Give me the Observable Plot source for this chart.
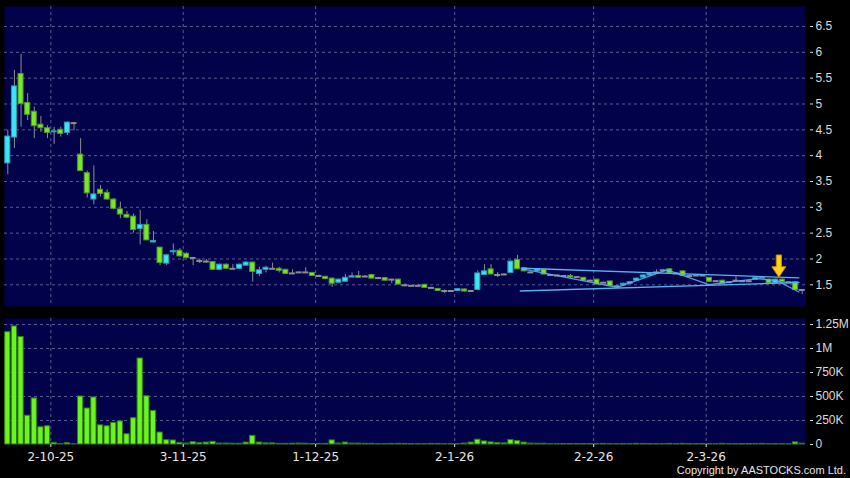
<!DOCTYPE html>
<html><head><meta charset="utf-8">
<script src="https://cdn.jsdelivr.net/npm/d3@7"></script>
<script src="https://cdn.jsdelivr.net/npm/@observablehq/plot@0.6"></script>
<style>
html,body{margin:0;padding:0;background:#000;}
#wrap{position:relative;width:850px;height:478px;overflow:hidden;background:#000;}
#wrap svg{display:block;}
#copy{position:absolute;right:4px;top:464px;font:11px "Liberation Sans",Arial,sans-serif;color:#e6e6e6;white-space:nowrap;}
</style></head>
<body><div id="wrap"><div id="copy">Copyright by AASTOCKS.com Ltd.</div></div>
<script>
// ---- data (one entry per trading day, index 0..120) ----
const opens = [3.85,4.35,5.58,5.02,4.85,4.60,4.53,4.45,4.50,4.44,
4.63,4.02,3.66,3.15,3.34,3.28,3.15,2.96,2.855,2.82,
2.58,2.66,2.32,2.22,1.91,2.13,2.16,2.10,2.02,1.96,
1.95,1.94,1.79,1.89,1.81,1.81,1.87,1.93,1.71,1.79,
1.81,1.81,1.79,1.72,1.74,1.74,1.73,1.67,1.655,1.62,
1.54,1.56,1.64,1.67,1.66,1.69,1.63,1.63,1.60,1.60,
1.49,1.48,1.48,1.50,1.44,1.42,1.38,1.38,1.38,1.41,
1.38,1.40,1.69,1.80,1.69,1.70,1.73,1.98,1.82,1.74,
1.76,1.79,1.69,1.68,1.67,1.67,1.65,1.635,1.58,1.60,
1.54,1.565,1.47,1.49,1.52,1.58,1.64,1.68,1.71,1.78,
1.80,1.72,1.76,1.67,1.68,1.68,1.635,1.57,1.58,1.55,
1.58,1.57,1.57,1.60,1.62,1.60,1.53,1.60,1.55,1.55,
1.40];
const closes = [4.37,5.34,5.00,4.79,4.57,4.53,4.44,4.47,4.42,4.64,
4.63,3.70,3.27,3.25,3.26,3.15,2.97,2.86,2.80,2.56,
2.66,2.36,2.35,1.92,2.07,2.15,2.05,2.02,2.02,1.96,
1.95,1.79,1.89,1.81,1.81,1.89,1.93,1.75,1.78,1.83,
1.81,1.77,1.71,1.72,1.74,1.74,1.67,1.67,1.61,1.52,
1.60,1.635,1.665,1.635,1.66,1.62,1.63,1.58,1.60,1.505,
1.49,1.48,1.48,1.44,1.44,1.38,1.38,1.38,1.415,1.37,
1.38,1.72,1.76,1.70,1.69,1.70,1.95,1.80,1.76,1.74,
1.80,1.70,1.69,1.68,1.67,1.64,1.65,1.58,1.58,1.505,
1.54,1.475,1.47,1.52,1.55,1.62,1.68,1.71,1.74,1.78,
1.72,1.72,1.67,1.67,1.68,1.68,1.56,1.57,1.52,1.55,
1.58,1.57,1.57,1.635,1.635,1.53,1.60,1.55,1.55,1.40,
1.40];
const highs = [4.49,5.65,5.96,5.20,4.94,4.76,4.58,4.55,4.55,4.65,
4.64,4.33,3.70,3.80,3.42,3.34,3.17,3.10,2.92,2.87,
2.94,2.76,2.53,2.22,2.09,2.29,2.20,2.12,2.03,2.00,
1.99,1.95,1.90,1.90,1.89,1.90,1.95,1.94,1.84,1.86,
1.92,1.84,1.80,1.79,1.75,1.83,1.74,1.69,1.66,1.63,
1.61,1.70,1.73,1.76,1.68,1.70,1.64,1.64,1.61,1.61,
1.52,1.49,1.51,1.51,1.45,1.43,1.40,1.39,1.43,1.42,
1.39,1.77,1.89,1.89,1.74,1.71,1.96,2.07,1.83,1.75,
1.81,1.80,1.70,1.69,1.68,1.70,1.66,1.64,1.59,1.61,
1.55,1.57,1.48,1.53,1.56,1.63,1.69,1.72,1.79,1.80,
1.81,1.73,1.77,1.69,1.69,1.70,1.64,1.58,1.59,1.56,
1.65,1.58,1.58,1.64,1.64,1.61,1.61,1.61,1.56,1.56,
1.41];
const lows = [3.63,4.14,4.55,4.68,4.33,4.45,4.33,4.22,4.36,4.39,
4.48,3.70,3.18,3.05,3.20,3.14,2.95,2.78,2.78,2.50,
2.27,2.36,2.31,1.87,1.87,2.07,2.04,2.00,1.87,1.91,
1.92,1.78,1.78,1.80,1.80,1.80,1.86,1.55,1.66,1.73,
1.80,1.73,1.70,1.70,1.73,1.73,1.66,1.65,1.60,1.45,
1.53,1.55,1.64,1.63,1.64,1.61,1.62,1.57,1.52,1.50,
1.48,1.47,1.47,1.43,1.43,1.37,1.33,1.37,1.37,1.36,
1.37,1.39,1.68,1.69,1.64,1.69,1.72,1.79,1.75,1.73,
1.75,1.69,1.66,1.67,1.66,1.63,1.64,1.57,1.57,1.50,
1.53,1.47,1.45,1.48,1.51,1.57,1.63,1.67,1.70,1.77,
1.71,1.71,1.66,1.66,1.67,1.67,1.55,1.56,1.51,1.54,
1.57,1.56,1.56,1.59,1.62,1.52,1.52,1.54,1.54,1.39,
1.31];
const volumes = [1170000,1230000,1120000,300000,480000,180000,190000,17000,3000,14000,
2000,500000,375000,490000,200000,190000,225000,240000,107000,274000,
896000,503000,350000,125000,45000,42000,17000,10000,24000,14000,
20000,28000,10000,10000,8000,8000,20000,90000,20000,12000,
12000,6000,6000,8000,10000,8000,5000,4000,6000,43000,
10000,20000,10000,10000,7000,7000,3000,3000,6000,7000,
6000,4000,3000,3000,6000,6000,3000,3000,3000,10000,
20000,50000,32000,22000,15000,12000,46000,35000,20000,10000,
8000,8000,3000,3000,5000,5000,4000,5000,5000,3000,
6000,3000,3000,5000,3000,7000,6000,5000,3000,3000,
6000,3000,7000,5000,3000,5000,3000,2000,7000,3000,
3000,5000,5000,3000,6000,3000,4000,3000,2000,22000,
8000];

// x-axis: first trading day of each month (candle index) and its label
const monthIndex  = [6, 26, 46, 67, 88, 105];
const monthLabels = ["2-10-25","3-11-25","1-12-25","2-1-26","2-2-26","2-3-26"];

const priceTicks = [1.5,2,2.5,3,3.5,4,4.5,5,5.5,6,6.5];
const volTicks = [0,250000,500000,750000,1000000,1250000];
const volTickLabels = ["0","250K","500K","750K","1M","1.25M"];

// drawn trend lines (x in candle slots, y in price)
const upperLineX = [78.2, 120.0], upperLineY = [1.82, 1.635];
const lowerLineX = [77.9, 120.0], lowerLineY = [1.38, 1.545];
const zigX = [78.2, 92.55, 100.1, 106.4, 113.7, 116.7, 120.0];
const zigY = [1.81, 1.45, 1.79, 1.505, 1.62, 1.58, 1.36];
// marker arrow
const arrowX = 117.05, arrowTopPrice = 2.067, arrowHeadPrice = 1.84, arrowTipPrice = 1.641;

// ---- build ----
const NAVY = "#02024a", GRID = "#5b5b8e";
const N = opens.length;
const candles = opens.map((o, i) => ({i, o, c: closes[i], h: highs[i], l: lows[i], v: volumes[i]}));
const bodies = candles.filter(d => d.o !== d.c);
const flats = candles.filter(d => d.o === d.c);
const gridXs = monthIndex.map(i => i + 1);
const labelOf = new Map(gridXs.map((g, k) => [g, monthLabels[k]]));
const volLabelOf = new Map(volTicks.map((t, k) => [t, volTickLabels[k]]));
const pts = (xs, ys) => xs.map((x, k) => ({x, y: ys[k]}));

const arrowMark = (index, scales) => {
  const x = scales.x(arrowX), y0 = scales.y(arrowTopPrice), yh = scales.y(arrowHeadPrice), yt = scales.y(arrowTipPrice);
  const p = d3.create("svg:path")
    .attr("d", `M${x-2.6},${y0}H${x+2.6}V${yh}H${x+7}L${x},${yt}L${x-7},${yh}H${x-2.6}Z`)
    .attr("fill", "#ffd21a").attr("stroke", "#d88a00").attr("stroke-width", 1);
  return p.node();
};

const price = Plot.plot({
  width: 850, height: 312,
  marginLeft: 4, marginRight: 45, marginTop: 6, marginBottom: 6,
  style: {background: "#000", color: "#dcdcdc", fontFamily: "Liberation Sans, Arial, sans-serif", fontSize: "12px"},
  x: {domain: [0, N], axis: null, label: null},
  y: {domain: [1.08, 6.887], label: null},
  marks: [
    Plot.frame({fill: NAVY, stroke: null}),
    Plot.gridY(priceTicks, {stroke: GRID, strokeOpacity: 1, strokeDasharray: "3,3"}),
    Plot.gridX(gridXs, {stroke: GRID, strokeOpacity: 1, strokeDasharray: "3,3"}),
    Plot.ruleX(candles, {x: d => d.i + 0.5, y1: "l", y2: "h", stroke: "#8e8e8e", strokeWidth: 1}),
    Plot.rect(bodies, {
      x1: d => d.i + 0.12, x2: d => d.i + 0.88,
      y1: d => Math.min(d.o, d.c), y2: d => Math.max(d.o, d.c),
      fill: d => d.c > d.o ? "#3fe3f2" : "#78e62a",
      stroke: d => d.c > d.o ? "#2a9fb5" : "#4f9a2a", strokeWidth: 1
    }),
    Plot.ruleY(flats, {x1: d => d.i + 0.05, x2: d => d.i + 0.95, y: "c", stroke: "#8e8e8e", strokeWidth: 2}),
    Plot.line(pts(upperLineX, upperLineY), {x: "x", y: "y", stroke: "#58b0ee", strokeWidth: 1.3}),
    Plot.line(pts(lowerLineX, lowerLineY), {x: "x", y: "y", stroke: "#58b0ee", strokeWidth: 1.3}),
    Plot.line(pts(zigX, zigY), {x: "x", y: "y", stroke: "#58b0ee", strokeWidth: 1.3, strokeOpacity: 0.9}),
    arrowMark,
    Plot.axisY(priceTicks, {anchor: "right", label: null, tickSize: 3, tickPadding: 3, dx: 4, color: "#dcdcdc",
      tickFormat: d => String(d), fontSize: 12})
  ]
});

const volume = Plot.plot({
  width: 850, height: 166,
  marginLeft: 4, marginRight: 45, marginTop: 6, marginBottom: 34,
  style: {background: "#000", color: "#dcdcdc", fontFamily: "Liberation Sans, Arial, sans-serif", fontSize: "12px"},
  x: {domain: [0, N], label: null},
  y: {domain: [0, 1312500], label: null},
  marks: [
    Plot.frame({fill: NAVY, stroke: null}),
    Plot.gridY(volTicks.slice(1), {stroke: GRID, strokeOpacity: 1, strokeDasharray: "3,3"}),
    Plot.gridX(gridXs, {stroke: GRID, strokeOpacity: 1, strokeDasharray: "3,3"}),
    Plot.rect(candles, {x1: d => d.i + 0.1, x2: d => d.i + 0.9, y1: 0, y2: "v",
      fill: "#6cf51d", stroke: "#2e7d0e", strokeWidth: 1}),
    Plot.axisY(volTicks, {anchor: "right", label: null, tickSize: 3, tickPadding: 3, dx: 4, color: "#dcdcdc",
      tickFormat: d => volLabelOf.get(d), fontSize: 12}),
    Plot.axisX(gridXs, {anchor: "bottom", label: null, tickSize: 3, tickPadding: 5, color: "#e6e6e6",
      tickFormat: d => labelOf.get(d), fontSize: 12, fontFamily: "DejaVu Sans, sans-serif"})
  ]
});

const wrap = document.getElementById("wrap");
wrap.insertBefore(volume, wrap.firstChild);
wrap.insertBefore(price, volume);
</script>
</body></html>
